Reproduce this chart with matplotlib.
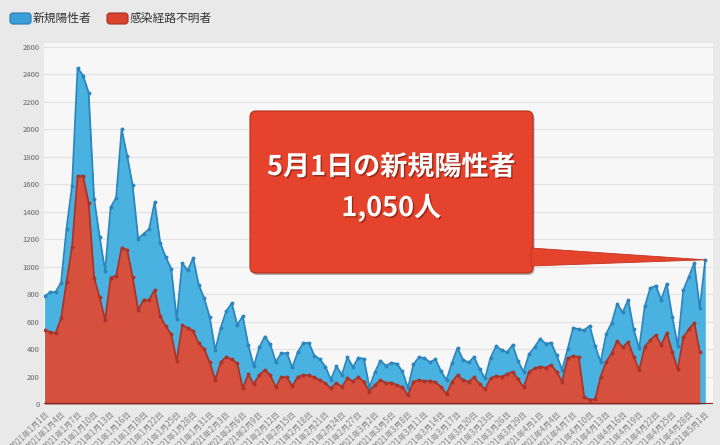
import numpy as np
import pandas as pd
import matplotlib
matplotlib.use('Agg')
import matplotlib.pyplot as plt
from matplotlib.patches import FancyBboxPatch, Polygon
import matplotlib.patheffects as pe

plt.rcParams['font.family'] = ['Noto Sans CJK JP', 'DejaVu Sans']

# ---- data ----
dates = pd.date_range('2021-01-01', '2021-05-01')
date_labels = [f"{d.year}年{d.month}月{d.day}日" for d in dates]

series_names = ["新規陽性者", "感染経路不明者"]

positives = [
    783, 814, 816, 884, 1278, 1591, 2447, 2392, 2268, 1494, 1219, 970, 1433, 1502, 2001, 1809,
    1592, 1204, 1240, 1274, 1471, 1175, 1070, 986, 618, 1026, 973, 1064, 868, 769, 633,
    393, 556, 676, 734, 577, 639, 429, 276, 412, 491, 434, 307, 369, 371, 266, 378, 445, 445,
    353, 327, 272, 178, 275, 213, 340, 270, 337, 329,
    121, 232, 316, 279, 301, 293, 237, 116, 290, 340, 335, 304, 326, 239, 175, 300, 409, 323,
    303, 342, 256, 187, 337, 420, 394, 376, 430, 313, 234, 364, 414,
    475, 440, 446, 355, 249, 399, 555, 545, 537, 570, 421, 306, 510, 591, 729, 667, 759, 543,
    405, 711, 843, 861, 759, 876, 635, 425, 828, 925, 1027, 698,
    1050,
]

unknown = [
    538, 526, 516, 623, 892, 1147, 1660, 1660, 1467, 921, 776, 611, 921, 933, 1139, 1122,
    923, 686, 759, 759, 831, 642, 565, 509, 315, 574, 553, 533, 441, 400, 303,
    177, 305, 344, 325, 296, 114, 216, 146, 211, 248, 211, 121, 199, 194, 131, 199, 209, 209,
    194, 175, 150, 114, 155, 126, 187, 167, 194, 163,
    90, 138, 175, 155, 155, 138, 121, 66, 163, 175, 167, 170, 158, 126, 73, 163, 211, 175,
    163, 194, 146, 107, 187, 204, 199, 218, 235, 180, 121, 235, 260,
    272, 265, 284, 235, 163, 333, 349, 344, 53, 32, 34, 199, 308, 369, 461, 413, 454, 344,
    248, 417, 466, 502, 430, 519, 381, 252, 485, 544, 592, 381,
    np.nan,
]

y_ticks = list(range(0, 2601, 200))
callout_lines = ["5月1日の新規陽性者", "1,050人"]
callout_index = 120

# ---- figure ----
W, H, DPI = 720, 445, 100
fig = plt.figure(figsize=(W / DPI, H / DPI), dpi=DPI)
fig.patch.set_facecolor('#e9e9e9')

ax = fig.add_axes([44 / W, (H - 404) / H, 669 / W, 361 / H])
ax.set_facecolor('#f7f7f7')
for s in ax.spines.values():
    s.set_visible(False)

x = np.arange(len(dates))
pos = np.array(positives, dtype=float)
unk = np.array(unknown, dtype=float)

blue_fill, blue_line = '#4ab2e1', '#2a86bd'
red_fill, red_line = '#d6503d', '#a9352a'

ax.fill_between(x, pos, color=blue_fill, lw=0, zorder=2)
ax.plot(x, pos, color=blue_line, lw=1.3, marker='o', ms=2.8, mew=0, zorder=3)
ax.fill_between(x, unk, color=red_fill, lw=0, zorder=4)
ax.plot(x, unk, color=red_line, lw=1.3, marker='o', ms=2.8, mew=0, zorder=5)
ax.axhline(0, color='#8a271c', lw=1.6, zorder=6)

ax.set_xlim(-0.1, 121.4)
ax.set_ylim(0, 2629)
ax.set_yticks(y_ticks)
ax.set_yticklabels([str(v) for v in y_ticks])
ax.yaxis.grid(True, color='#e2e2e2', lw=0.8, zorder=0)
ax.set_axisbelow(True)
ax.tick_params(axis='y', length=0, pad=3, labelsize=5.5, labelcolor='#666666')

ax.set_xticks(x[::3])
ax.set_xticklabels(date_labels[::3], rotation=45, ha='right', va='top',
                   rotation_mode='anchor', fontsize=5.8, color='#888888')
ax.tick_params(axis='x', length=0, pad=4)

# ---- legend (manual) ----
inch = fig.dpi_scale_trans
leg_items = [(series_names[0], '#3a9fd8', '#2877ad', 10, 33),
             (series_names[1], '#d9432e', '#a53020', 107, 130)]
for name, fc, ec, px0, tx in leg_items:
    p = FancyBboxPatch((px0 / DPI, (H - 24) / DPI), 21 / DPI, 11 / DPI,
                       boxstyle="round,pad=0,rounding_size=0.03",
                       transform=inch, facecolor=fc, edgecolor=ec, lw=0.8)
    fig.patches.append(p)
    fig.text(tx / DPI, (H - 18.5) / DPI, name, transform=inch, fontsize=8.5,
             color='#333333', va='center', ha='left')

# ---- callout ----
bx0, bx1, by_top, by_bot = 250, 533, 111, 273
shadow = FancyBboxPatch(((bx0 + 1.5) / DPI, (H - by_bot - 2) / DPI),
                        (bx1 - bx0) / DPI, (by_bot - by_top) / DPI,
                        boxstyle="round,pad=0,rounding_size=0.06",
                        transform=inch, facecolor='#555555', edgecolor='none',
                        alpha=0.45, zorder=10)
fig.patches.append(shadow)
box = FancyBboxPatch((bx0 / DPI, (H - by_bot) / DPI),
                     (bx1 - bx0) / DPI, (by_bot - by_top) / DPI,
                     boxstyle="round,pad=0,rounding_size=0.06",
                     transform=inch, facecolor='#e6432d', edgecolor='#b5301f',
                     lw=0.8, zorder=11)
fig.patches.append(box)

fig.canvas.draw()
tip_disp = ax.transData.transform((x[callout_index], pos[callout_index]))
tip = (tip_disp[0] / fig.dpi, tip_disp[1] / fig.dpi)
ptr = Polygon([((bx1 - 2) / DPI, (H - 248) / DPI), tip, ((bx1 - 2) / DPI, (H - 266) / DPI)],
              closed=True, transform=inch, facecolor='#e6432d', edgecolor='#c03522',
              lw=0.6, zorder=12)
fig.patches.append(ptr)

cx = (bx0 + bx1) / 2 / DPI
shadow_fx = [pe.withSimplePatchShadow(offset=(1, -1), shadow_rgbFace='#5a1208', alpha=0.55)]
fig.text(cx, (H - 167) / DPI, callout_lines[0], transform=inch, fontsize=19.5,
         fontweight='bold', color='white', ha='center', va='center',
         path_effects=shadow_fx, zorder=13)
fig.text(cx, (H - 208) / DPI, callout_lines[1], transform=inch, fontsize=19.5,
         fontweight='bold', color='white', ha='center', va='center',
         path_effects=shadow_fx, zorder=13)

fig.savefig('out.png', dpi=DPI, facecolor=fig.get_facecolor())
